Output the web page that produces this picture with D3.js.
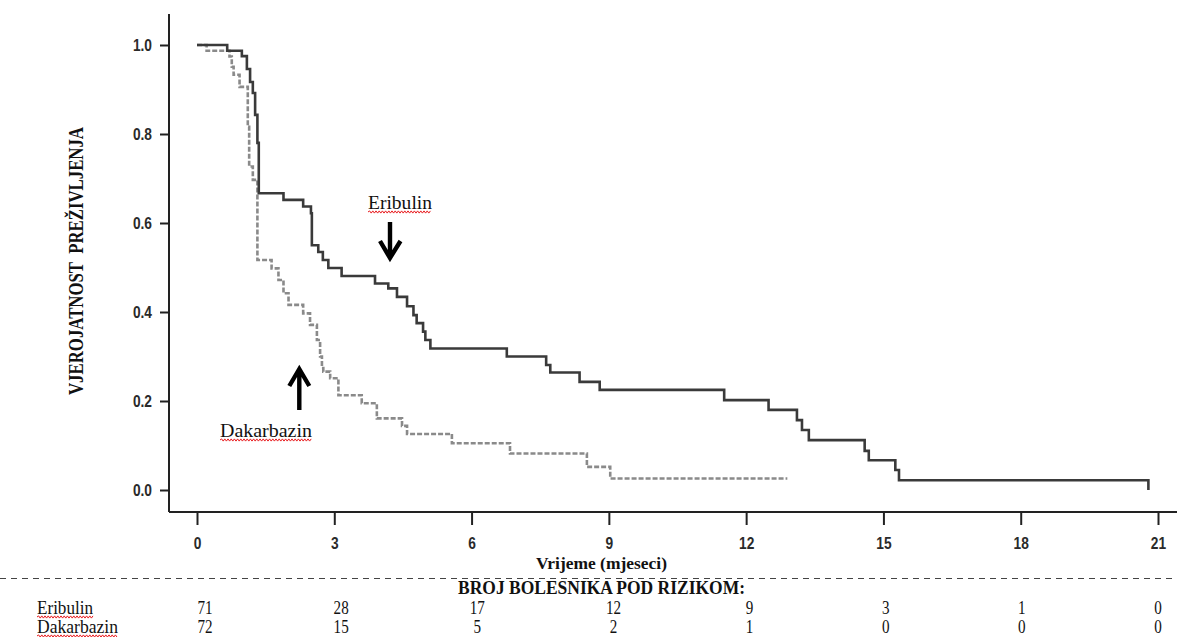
<!DOCTYPE html>
<html>
<head>
<meta charset="utf-8">
<script src="https://cdn.jsdelivr.net/npm/d3@7"></script>
<style>
  html, body { margin: 0; padding: 0; background: #fff; }
  svg { display: block; }
</style>
</head>
<body>
<svg id="chart" width="1177" height="637"></svg>
<script>
// ---------------- DATA ----------------
const timeTicks = [0, 3, 6, 9, 12, 15, 18, 21];
const survTicks = [0.0, 0.2, 0.4, 0.6, 0.8, 1.0];

const eribulinTime = [0, 0.66, 0.98, 1.09, 1.16, 1.22, 1.27, 1.32, 1.35, 1.89, 2.32, 2.49, 2.51, 2.65, 2.75, 2.87, 3.16, 3.89, 4.18, 4.37, 4.59, 4.73, 4.80, 4.94, 4.99, 5.10, 6.77, 7.63, 7.72, 8.36, 8.80, 11.52, 12.49, 13.11, 13.22, 13.37, 14.59, 14.68, 15.26, 15.34, 20.79];
const eribulinSurv = [1.0, 0.987, 0.975, 0.946, 0.917, 0.892, 0.843, 0.78, 0.667, 0.652, 0.637, 0.622, 0.55, 0.535, 0.517, 0.499, 0.481, 0.464, 0.453, 0.434, 0.413, 0.393, 0.375, 0.356, 0.337, 0.318, 0.30, 0.281, 0.264, 0.243, 0.225, 0.202, 0.18, 0.157, 0.135, 0.112, 0.088, 0.067, 0.045, 0.022, 0.0];

const dakarbazinTime = [0, 0.21, 0.71, 0.76, 0.80, 0.93, 1.11, 1.14, 1.22, 1.32, 1.63, 1.78, 1.89, 2.00, 2.32, 2.47, 2.62, 2.69, 2.73, 2.76, 2.91, 3.09, 3.60, 3.93, 4.48, 4.59, 5.57, 6.84, 8.52, 9.03, 12.90];
const dakarbazinSurv = [1.0, 0.987, 0.974, 0.951, 0.933, 0.906, 0.816, 0.727, 0.697, 0.517, 0.498, 0.472, 0.442, 0.416, 0.397, 0.371, 0.337, 0.30, 0.274, 0.266, 0.251, 0.213, 0.195, 0.161, 0.144, 0.126, 0.105, 0.082, 0.052, 0.026, 0.026];

const seriesNames = ["Eribulin", "Dakarbazin"];
const eribulinRisk = [71, 28, 17, 12, 9, 3, 1, 0];
const dakarbazinRisk = [72, 15, 5, 2, 1, 0, 0, 0];

const yTitle = "VJEROJATNOST  PREŽIVLJENJA";
const xTitle = "Vrijeme (mjeseci)";
const riskTitle = "BROJ BOLESNIKA POD RIZIKOM:";

// ---------------- CHART ----------------
const svg = d3.select("#chart");
const SERIF = "'Liberation Serif', 'Times New Roman', serif";
const SANS = "'Liberation Sans', Arial, sans-serif";

const x = d3.scaleLinear().domain([0, 21]).range([197, 1158]);
const y = d3.scaleLinear().domain([0, 1]).range([490, 45]);
const xRisk = d3.scaleLinear().domain([0, 21]).range([205, 1158]);

const axisX = 169, axisY = 512;
const axisColor = "#222";

// axis lines
svg.append("line").attr("x1", axisX).attr("x2", axisX).attr("y1", 14).attr("y2", axisY)
  .attr("stroke", axisColor).attr("stroke-width", 2);
svg.append("line").attr("x1", axisX).attr("x2", 1177).attr("y1", axisY).attr("y2", axisY)
  .attr("stroke", axisColor).attr("stroke-width", 2);

// y axis
const gy = svg.append("g").attr("transform", `translate(${axisX},0)`)
  .call(d3.axisLeft(y).tickValues(survTicks).tickFormat(d3.format(".1f")).tickSize(9));
gy.select(".domain").remove();
gy.selectAll(".tick line").attr("stroke", axisColor).attr("stroke-width", 2);
gy.selectAll(".tick text")
  .attr("x", 0).attr("dy", "0.36em")
  .attr("transform", "translate(-17,0) scale(0.86,1)")
  .style("font-family", SANS).style("font-weight", "bold").style("font-size", "16px")
  .attr("fill", "#2a2a2a");

// x axis
const gx = svg.append("g").attr("transform", `translate(0,${axisY})`)
  .call(d3.axisBottom(x).tickValues(timeTicks).tickFormat(d3.format("d")).tickSize(13));
gx.select(".domain").remove();
gx.selectAll(".tick line").attr("stroke", axisColor).attr("stroke-width", 2);
gx.selectAll(".tick text")
  .attr("y", 0).attr("dy", 0)
  .attr("transform", "translate(0,37) scale(0.86,1)")
  .style("font-family", SANS).style("font-weight", "bold").style("font-size", "16px")
  .attr("fill", "#2a2a2a");

// curves
const line = d3.line().x(d => x(d[0])).y(d => y(d[1])).curve(d3.curveStepAfter);
const eribulinData = eribulinTime.map((t, i) => [t, eribulinSurv[i]]);
const dakarbazinData = dakarbazinTime.map((t, i) => [t, dakarbazinSurv[i]]);

svg.append("path").datum(dakarbazinData).attr("d", line)
  .attr("fill", "none").attr("stroke", "#8a8a8a").attr("stroke-width", 2.6)
  .attr("stroke-dasharray", "5,2");
svg.append("path").datum(eribulinData).attr("d", line)
  .attr("fill", "none").attr("stroke", "#3a3a3a").attr("stroke-width", 2.6);

// helpers
function squiggle(x0, x1, yy) {
  let d = `M${x0},${yy}`;
  let up = true;
  for (let xx = x0 + 1.6; xx <= x1; xx += 1.6) {
    d += `L${xx.toFixed(1)},${(yy + (up ? -1.1 : 1.1)).toFixed(1)}`;
    up = !up;
  }
  return d;
}
function addText(txt, xx, yy, size, len, opts = {}) {
  const t = svg.append("text").attr("x", xx).attr("y", yy).text(txt)
    .style("font-family", opts.family || SERIF)
    .style("font-size", size + "px")
    .style("font-weight", opts.bold ? "bold" : "normal")
    .style("white-space", "pre")
    .attr("fill", "#111");
  if (len) t.attr("textLength", len).attr("lengthAdjust", "spacingAndGlyphs");
  if (opts.anchor) t.attr("text-anchor", opts.anchor);
  if (opts.transform) t.attr("transform", opts.transform);
  return t;
}
function addSquiggle(x0, x1, yy) {
  svg.append("path").attr("d", squiggle(x0, x1, yy))
    .attr("fill", "none").attr("stroke", "#e8191c").attr("stroke-width", 1);
}

// y title
svg.append("text").text(yTitle)
  .attr("transform", "translate(83,261) rotate(-90)")
  .attr("text-anchor", "middle")
  .attr("textLength", 268).attr("lengthAdjust", "spacingAndGlyphs")
  .style("white-space", "pre")
  .style("font-family", SERIF).style("font-weight", "bold").style("font-size", "20px")
  .attr("fill", "#111");

// x title
addText(xTitle, 536, 569, 17, 131, { bold: true });

// separator
svg.append("line").attr("x1", 0).attr("x2", 1177).attr("y1", 578.5).attr("y2", 578.5)
  .attr("stroke", "#444").attr("stroke-width", 1.2).attr("stroke-dasharray", "6,5");

// risk title
addText(riskTitle, 458, 594, 19, 287, { bold: true });

// risk table
const riskRows = [eribulinRisk, dakarbazinRisk];
const rowBase = [614, 633];
const labelLen = [56, 81];
seriesNames.forEach((name, r) => {
  addText(name, 37, rowBase[r], 18, labelLen[r]);
  addSquiggle(37, 37 + labelLen[r], rowBase[r] + 3);
  svg.append("g").selectAll("text").data(riskRows[r]).join("text")
    .attr("transform", (d, i) => `translate(${xRisk(timeTicks[i])},${rowBase[r]}) scale(0.84,1)`)
    .attr("text-anchor", "middle")
    .style("font-family", SERIF).style("font-size", "18px")
    .attr("fill", "#111")
    .text(d => d);
});

// annotations
addText(seriesNames[0], 368, 209, 19, 64);
addSquiggle(368, 432, 212);
addText(seriesNames[1], 220, 437, 19, 92);
addSquiggle(220, 312, 440);

// arrows
svg.append("path")
  .attr("d", "M390,222 L390,257 M380,241 L390,258 L400.5,241")
  .attr("fill", "none").attr("stroke", "#000").attr("stroke-width", 4.4)
  .attr("stroke-linejoin", "miter");
svg.append("path")
  .attr("d", "M299.3,410 L299.3,371 M289.3,386 L299.3,369 L309.3,386")
  .attr("fill", "none").attr("stroke", "#000").attr("stroke-width", 4.4)
  .attr("stroke-linejoin", "miter");
</script>
</body>
</html>
